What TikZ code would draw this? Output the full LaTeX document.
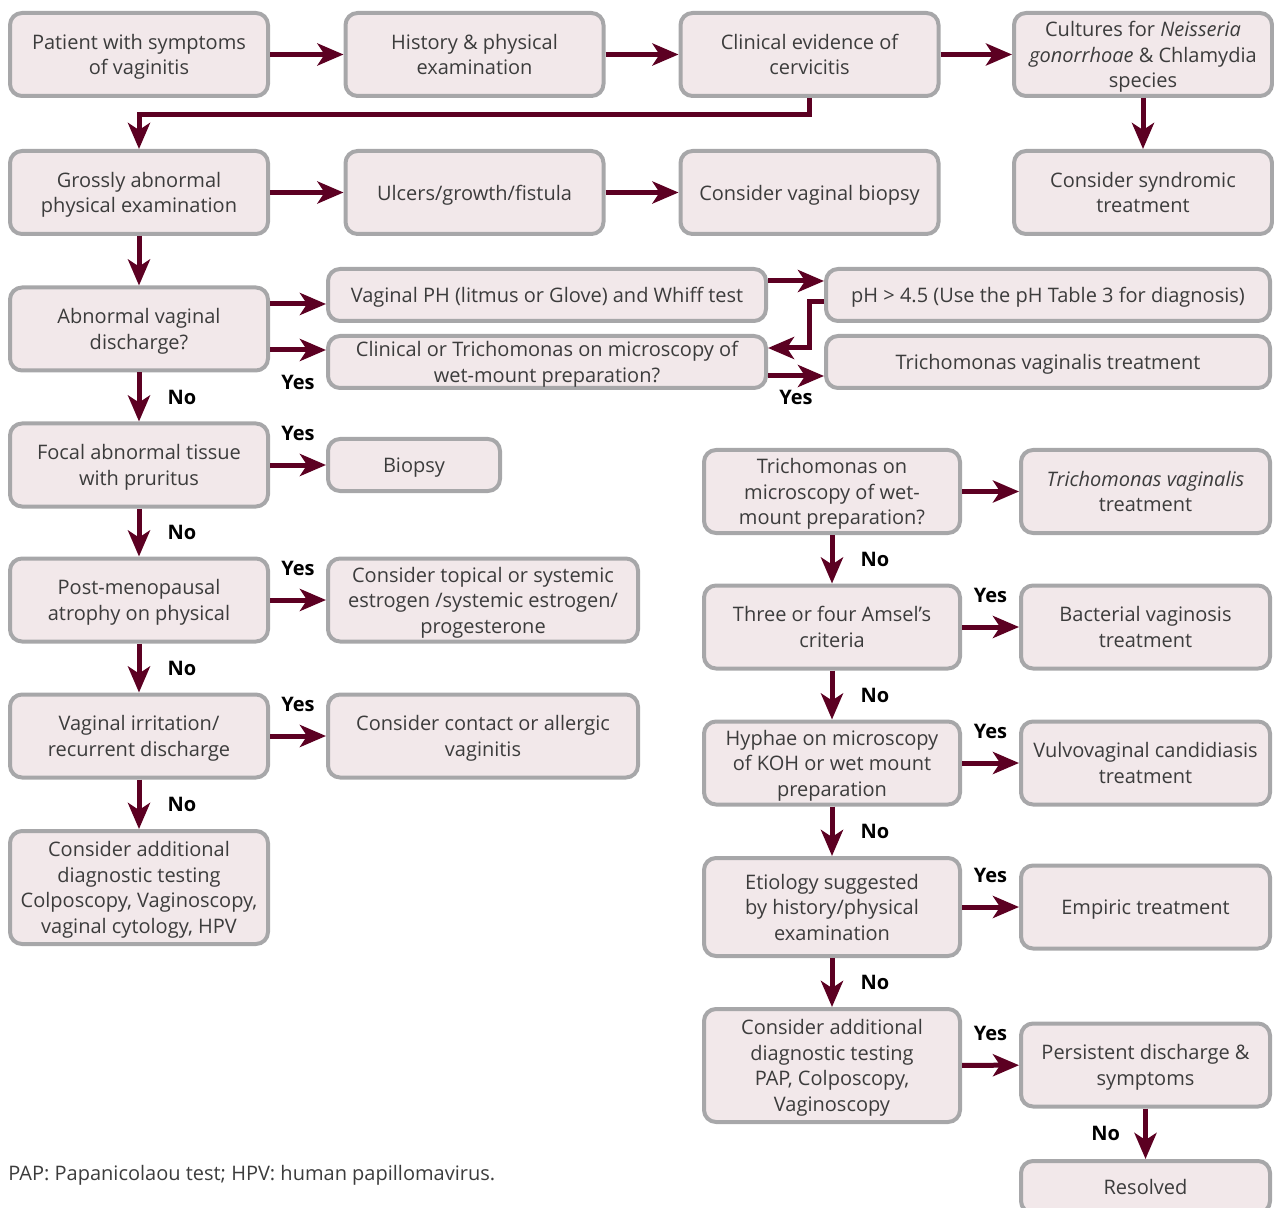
\documentclass[tikz,border=0pt]{standalone}
\usepackage{fontspec}
\setmainfont{Open Sans}
\usepackage{tikz}
\usetikzlibrary{arrows.meta,calc}
\definecolor{boxfill}{HTML}{F2E8EA}
\definecolor{boxline}{HTML}{A7A7A9}
\definecolor{wine}{HTML}{5C0022}
\definecolor{textgray}{HTML}{3C3C3C}
\tikzset{%
    >={Stealth[length=13pt,width=11pt,inset=3.5pt]},
    box/.style={draw=boxline, fill=boxfill, line width=2pt, rounded corners=6pt,
        align=center, inner sep=2pt, text=textgray, text depth=0pt,
        minimum width=129pt, minimum height=41.5pt,
        font=\fontsize{10}{12.75}\selectfont},
    flat/.style={minimum height=26pt},
    tall/.style={minimum height=56.5pt},
    arr/.style={->, draw=wine, line width=2.5pt},
    lbl/.style={inner sep=0, font=\fontsize{10}{12}\selectfont\bfseries},
    yes/.style={lbl, anchor=south, yshift=11pt},
    yesb/.style={lbl, anchor=north, yshift=-11.5pt},
    no/.style={lbl, anchor=west, xshift=13pt},
    noleft/.style={lbl, anchor=east, xshift=-11.5pt}
}
\begin{document}
\begin{tikzpicture}[x=0.5pt,y=-0.5pt]
        \useasboundingbox (0,0) rectangle (1274,1208);

        % top rows
        \node[box] (patient) at (139,54.5) {Patient with symptoms\\of vaginitis};
        \node[box] (history) at (474.5,54.5) {History \& physical\\examination};
        \node[box] (cervicitis) at (809.5,54.5) {Clinical evidence of\\cervicitis};
        \node[box] (cultures) at (1143,54.5) {Cultures for \textit{Neisseria}\\\textit{gonorrhoae} \& Chlamydia\\species};
        \node[box] (gross) at (139,192.5) {Grossly abnormal\\physical examination};
        \node[box] (ulcers) at (474.5,192.5) {Ulcers/growth/fistula};
        \node[box] (vbiopsy) at (809.5,192.5) {Consider vaginal biopsy};
        \node[box] (syndromic) at (1143,192.5) {Consider syndromic\\treatment};

        % left column
        \node[box] (discharge) at (139,329) {Abnormal vaginal\\discharge?};
        \node[box, flat, minimum width=219pt] (whiff) at (547,295) {Vaginal PH (litmus or Glove) and Whiff test};
        \node[box, flat, minimum width=219pt] (trichwet) at (547,362) {Clinical or Trichomonas on microscopy of\\wet-mount preparation?};
        \node[box, flat, minimum width=222pt] (phtest) at (1048,295) {pH > 4.5 (Use the pH Table 3 for diagnosis)};
        \node[box, flat, minimum width=222pt] (tvtreat) at (1048,362) {Trichomonas vaginalis treatment};
        \node[box] (focal) at (139,465) {Focal abnormal tissue\\with pruritus};
        \node[box, flat, minimum width=86pt] (biopsy) at (414,465) {Biopsy};
        \node[box] (atrophy) at (139,600) {Post-menopausal\\atrophy on physical};
        \node[box, minimum width=155pt] (estrogen) at (483,600) {Consider topical or systemic\\estrogen /systemic estrogen/\\progesterone};
        \node[box] (irritation) at (139,736) {Vaginal irritation/\\recurrent discharge};
        \node[box, minimum width=155pt] (contact) at (483,736) {Consider contact or allergic\\vaginitis};
        \node[box, tall] (addtest) at (139,887.5) {Consider additional\\diagnostic testing\\Colposcopy, Vaginoscopy,\\vaginal cytology, HPV};

        % right column
        \node[box, minimum width=128pt] (trichmicro) at (832,491.5) {Trichomonas on\\microscopy of wet-\\mount preparation?};
        \node[box, minimum width=124.5pt] (tvtreat2) at (1145.5,491.5) {\textit{Trichomonas vaginalis}\\treatment};
        \node[box, minimum width=128pt] (amsel) at (832,627) {Three or four Amsel’s\\criteria};
        \node[box, minimum width=124.5pt] (bvtreat) at (1145.5,627) {Bacterial vaginosis\\treatment};
        \node[box, minimum width=128pt] (hyphae) at (832,763) {Hyphae on microscopy\\of KOH or wet mount\\preparation};
        \node[box, minimum width=124.5pt] (candida) at (1145.5,763) {Vulvovaginal candidiasis\\treatment};
        \node[box, minimum width=128pt, minimum height=49pt] (etiology) at (832,907) {Etiology suggested\\by history/physical\\examination};
        \node[box, minimum width=124.5pt] (empiric) at (1145.5,907) {Empiric treatment};
        \node[box, tall, minimum width=128pt] (addtest2) at (832,1065.5) {Consider additional\\diagnostic testing\\PAP, Colposcopy,\\Vaginoscopy};
        \node[box, minimum width=124.5pt] (persist) at (1145.5,1065) {Persistent discharge \&\\symptoms};
        \node[box, flat, minimum width=124.5pt] (resolved) at (1145.5,1187) {Resolved};

        \node[anchor=west, inner sep=0, text=textgray, font=\fontsize{10}{12}\selectfont] (note) at (8,1175) {PAP: Papanicolaou test; HPV: human papillomavirus.};

        % connectors
        \draw[arr] (patient) -- (history);
        \draw[arr] (history) -- (cervicitis);
        \draw[arr] (cervicitis) -- (cultures);
        \draw[arr] (cervicitis.south) |- ($(gross.north)+(0,-34)$) -- (gross.north);
        \draw[arr] (cultures) -- (syndromic);
        \draw[arr] (gross) -- (ulcers);
        \draw[arr] (ulcers) -- (vbiopsy);
        \draw[arr] (gross) -- (discharge);

        \draw[arr] ($(discharge.east)+(0,-25)$) -- ($(whiff.west)+(0,9)$);
        \draw[arr] ($(discharge.east)+(0,21)$) -- node[yesb] (yes1) {Yes} ($(trichwet.west)+(0,-12)$);
        \draw[arr] ($(whiff.east)+(0,-14)$) -- ($(phtest.west)+(0,-14)$);
        \draw[arr] ($(phtest.west)+(0,7)$) -| ($(trichwet.east)+(41,-14)$) -- ($(trichwet.east)+(0,-14)$);
        \draw[arr] ($(trichwet.east)+(0,14)$) -- node[yesb, yshift=5.5pt] (yes2) {Yes} ($(tvtreat.west)+(0,14)$);

        \draw[arr] (discharge) -- node[no] (no1) {No} (focal);
        \draw[arr] (focal) -- node[yes] (yes3) {Yes} (biopsy);
        \draw[arr] (focal) -- node[no] (no2) {No} (atrophy);
        \draw[arr] (atrophy) -- node[yes] (yes4) {Yes} (estrogen);
        \draw[arr] (atrophy) -- node[no] (no3) {No} (irritation);
        \draw[arr] (irritation) -- node[yes] (yes5) {Yes} (contact);
        \draw[arr] (irritation) -- node[no] (no4) {No} (addtest);

        \draw[arr] (trichmicro) -- (tvtreat2);
        \draw[arr] (trichmicro) -- node[no] (no5) {No} (amsel);
        \draw[arr] (amsel) -- node[yes] (yes6) {Yes} (bvtreat);
        \draw[arr] (amsel) -- node[no] (no6) {No} (hyphae);
        \draw[arr] (hyphae) -- node[yes] (yes7) {Yes} (candida);
        \draw[arr] (hyphae) -- node[no] (no7) {No} (etiology);
        \draw[arr] (etiology) -- node[yes] (yes8) {Yes} (empiric);
        \draw[arr] (etiology) -- node[no] (no8) {No} (addtest2);
        \draw[arr] (addtest2) -- node[yes] (yes9) {Yes} (persist);
        \draw[arr] (persist) -- node[noleft] (no9) {No} (resolved);
    \end{tikzpicture}
\end{document}
